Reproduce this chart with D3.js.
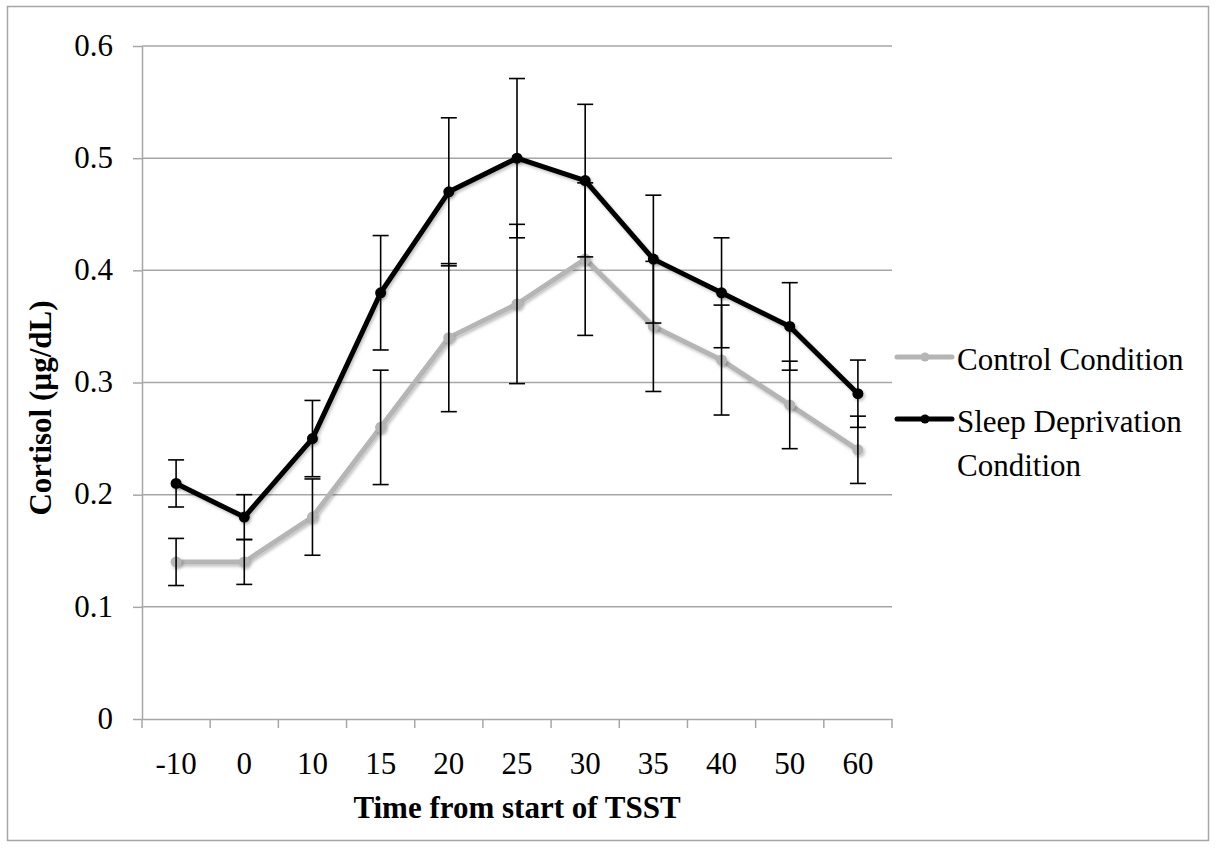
<!DOCTYPE html>
<html>
<head>
<meta charset="utf-8">
<script src="https://cdn.jsdelivr.net/npm/d3@7"></script>
<style>
  body { margin: 0; background: #fff; }
  svg { display: block; font-family: "Liberation Serif", "Times New Roman", serif; }
</style>
</head>
<body>
<script>
// time points (x categories)
const times = ["-10", "0", "10", "15", "20", "25", "30", "35", "40", "50", "60"];
// mean cortisol, µg/dL
const control = [0.14, 0.14, 0.18, 0.26, 0.34, 0.37, 0.41, 0.35, 0.32, 0.28, 0.24];
const sleepDep = [0.21, 0.18, 0.25, 0.38, 0.47, 0.50, 0.48, 0.41, 0.38, 0.35, 0.29];
// error bar half-widths
const controlErr = [0.021, 0.02, 0.034, 0.051, 0.066, 0.071, 0.068, 0.058, 0.049, 0.039, 0.03];
const sleepErr = [0.021, 0.02, 0.034, 0.051, 0.066, 0.071, 0.068, 0.057, 0.049, 0.039, 0.03];
const yTicks = [0, 0.1, 0.2, 0.3, 0.4, 0.5, 0.6];

const width = 1216, height = 848;
const margin = {left: 142, right: 324, top: 46, bottom: 129};
const gridColor = "#a6a6a6";
const fontSize = 31;

const svg = d3.select("body").append("svg")
    .attr("width", width)
    .attr("height", height);

// drop shadow like the original
const defs = svg.append("defs");
const f = defs.append("filter").attr("id", "shadow")
    .attr("x", "-50%").attr("y", "-50%").attr("width", "200%").attr("height", "200%");
f.append("feDropShadow")
    .attr("dx", 1.5).attr("dy", 2).attr("stdDeviation", 1.5)
    .attr("flood-color", "#000").attr("flood-opacity", 0.25);

// outer frame
svg.append("rect")
    .attr("x", 7.5).attr("y", 6.5)
    .attr("width", 1201).attr("height", 834)
    .attr("fill", "none")
    .attr("stroke", gridColor)
    .attr("stroke-width", 1.5);

const x = d3.scaleBand()
    .domain(times)
    .range([margin.left, width - margin.right]);

const y = d3.scaleLinear()
    .domain([0, 0.6])
    .range([height - margin.bottom, margin.top]);

// gridlines
svg.append("g")
    .selectAll("line")
    .data(yTicks.filter(d => d > 0))
    .join("line")
    .attr("x1", margin.left)
    .attr("x2", width - margin.right)
    .attr("y1", d => y(d))
    .attr("y2", d => y(d))
    .attr("stroke", gridColor)
    .attr("stroke-width", 1.5);

// y axis
const yAxis = svg.append("g")
    .attr("transform", `translate(${margin.left},0)`)
    .call(d3.axisLeft(y).tickValues(yTicks).tickFormat(d => d === 0 ? "0" : d3.format(".1f")(d))
        .tickSize(9).tickPadding(20).tickSizeOuter(0));
yAxis.select(".domain").attr("stroke", gridColor).attr("stroke-width", 1.5);
yAxis.selectAll(".tick line").attr("stroke", gridColor).attr("stroke-width", 1.5);
yAxis.selectAll(".tick text")
    .attr("font-family", "Liberation Serif, Times New Roman, serif")
    .attr("font-size", fontSize)
    .attr("fill", "#000")
    .attr("dy", "0.3em");

// x axis
const xAxis = svg.append("g")
    .attr("transform", `translate(0,${height - margin.bottom})`)
    .call(d3.axisBottom(x).tickSize(0).tickPadding(33));
xAxis.select(".domain").attr("stroke", gridColor).attr("stroke-width", 1.5);
xAxis.selectAll(".tick text")
    .attr("font-family", "Liberation Serif, Times New Roman, serif")
    .attr("font-size", fontSize)
    .attr("fill", "#000");
// ticks between categories
xAxis.append("g")
    .selectAll("line")
    .data(times.map(t => x(t)).concat([x.range()[1]]))
    .join("line")
    .attr("x1", d => d).attr("x2", d => d)
    .attr("y1", 0).attr("y2", 9)
    .attr("stroke", gridColor)
    .attr("stroke-width", 1.5);

// axis titles
svg.append("text")
    .attr("x", (margin.left + width - margin.right) / 2)
    .attr("y", 818)
    .attr("text-anchor", "middle")
    .attr("font-size", fontSize)
    .attr("font-weight", "bold")
    .text("Time from start of TSST");

svg.append("text")
    .attr("transform", "translate(51,408) rotate(-90)")
    .attr("text-anchor", "middle")
    .attr("font-size", fontSize)
    .attr("font-weight", "bold")
    .text("Cortisol (µg/dL)");

const cx = d => x(d) + x.bandwidth() / 2;

const series = [
    {name: "Control Condition", values: control, err: controlErr, color: "#b5b5b5"},
    {name: "Sleep Deprivation Condition", values: sleepDep, err: sleepErr, color: "#000"}
];

const line = d3.line()
    .x((d, i) => cx(times[i]))
    .y(d => y(d));

series.forEach(s => {
    const g = svg.append("g");
    g.append("path")
        .datum(s.values)
        .attr("d", line)
        .attr("fill", "none")
        .attr("stroke", s.color)
        .attr("stroke-width", 5)
        .attr("stroke-linejoin", "round")
        .attr("filter", "url(#shadow)");
    g.selectAll("circle")
        .data(s.values)
        .join("circle")
        .attr("cx", (d, i) => cx(times[i]))
        .attr("cy", d => y(d))
        .attr("r", 5.5)
        .attr("fill", s.color)
        .attr("filter", "url(#shadow)");
});

// error bars (drawn on top)
series.forEach(s => {
    const eb = svg.append("g")
        .attr("stroke", "#000")
        .attr("stroke-width", 1.6)
        .selectAll("g")
        .data(s.values)
        .join("g");
    eb.append("line")
        .attr("x1", (d, i) => cx(times[i]))
        .attr("x2", (d, i) => cx(times[i]))
        .attr("y1", (d, i) => y(d + s.err[i]))
        .attr("y2", (d, i) => y(d - s.err[i]));
    eb.append("line")
        .attr("x1", (d, i) => cx(times[i]) - 8)
        .attr("x2", (d, i) => cx(times[i]) + 8)
        .attr("y1", (d, i) => y(d + s.err[i]))
        .attr("y2", (d, i) => y(d + s.err[i]));
    eb.append("line")
        .attr("x1", (d, i) => cx(times[i]) - 8)
        .attr("x2", (d, i) => cx(times[i]) + 8)
        .attr("y1", (d, i) => y(d - s.err[i]))
        .attr("y2", (d, i) => y(d - s.err[i]));
});

// legend
const legend = svg.append("g");
const legendRows = [
    {s: series[0], y: 357, lines: ["Control Condition"]},
    {s: series[1], y: 419, lines: ["Sleep Deprivation", "Condition"]}
];
legendRows.forEach(r => {
    legend.append("line")
        .attr("x1", 897).attr("x2", 952)
        .attr("y1", r.y).attr("y2", r.y)
        .attr("stroke", r.s.color)
        .attr("stroke-width", 5)
        .attr("stroke-linecap", "round");
    legend.append("circle")
        .attr("cx", 925).attr("cy", r.y).attr("r", 4.5)
        .attr("fill", r.s.color);
    const t = legend.append("text")
        .attr("x", 957)
        .attr("y", r.y + 13)
        .attr("font-size", fontSize);
    r.lines.forEach((l, i) => {
        t.append("tspan").attr("x", 957).attr("dy", i === 0 ? 0 : 44).text(l);
    });
});
</script>
</body>
</html>
